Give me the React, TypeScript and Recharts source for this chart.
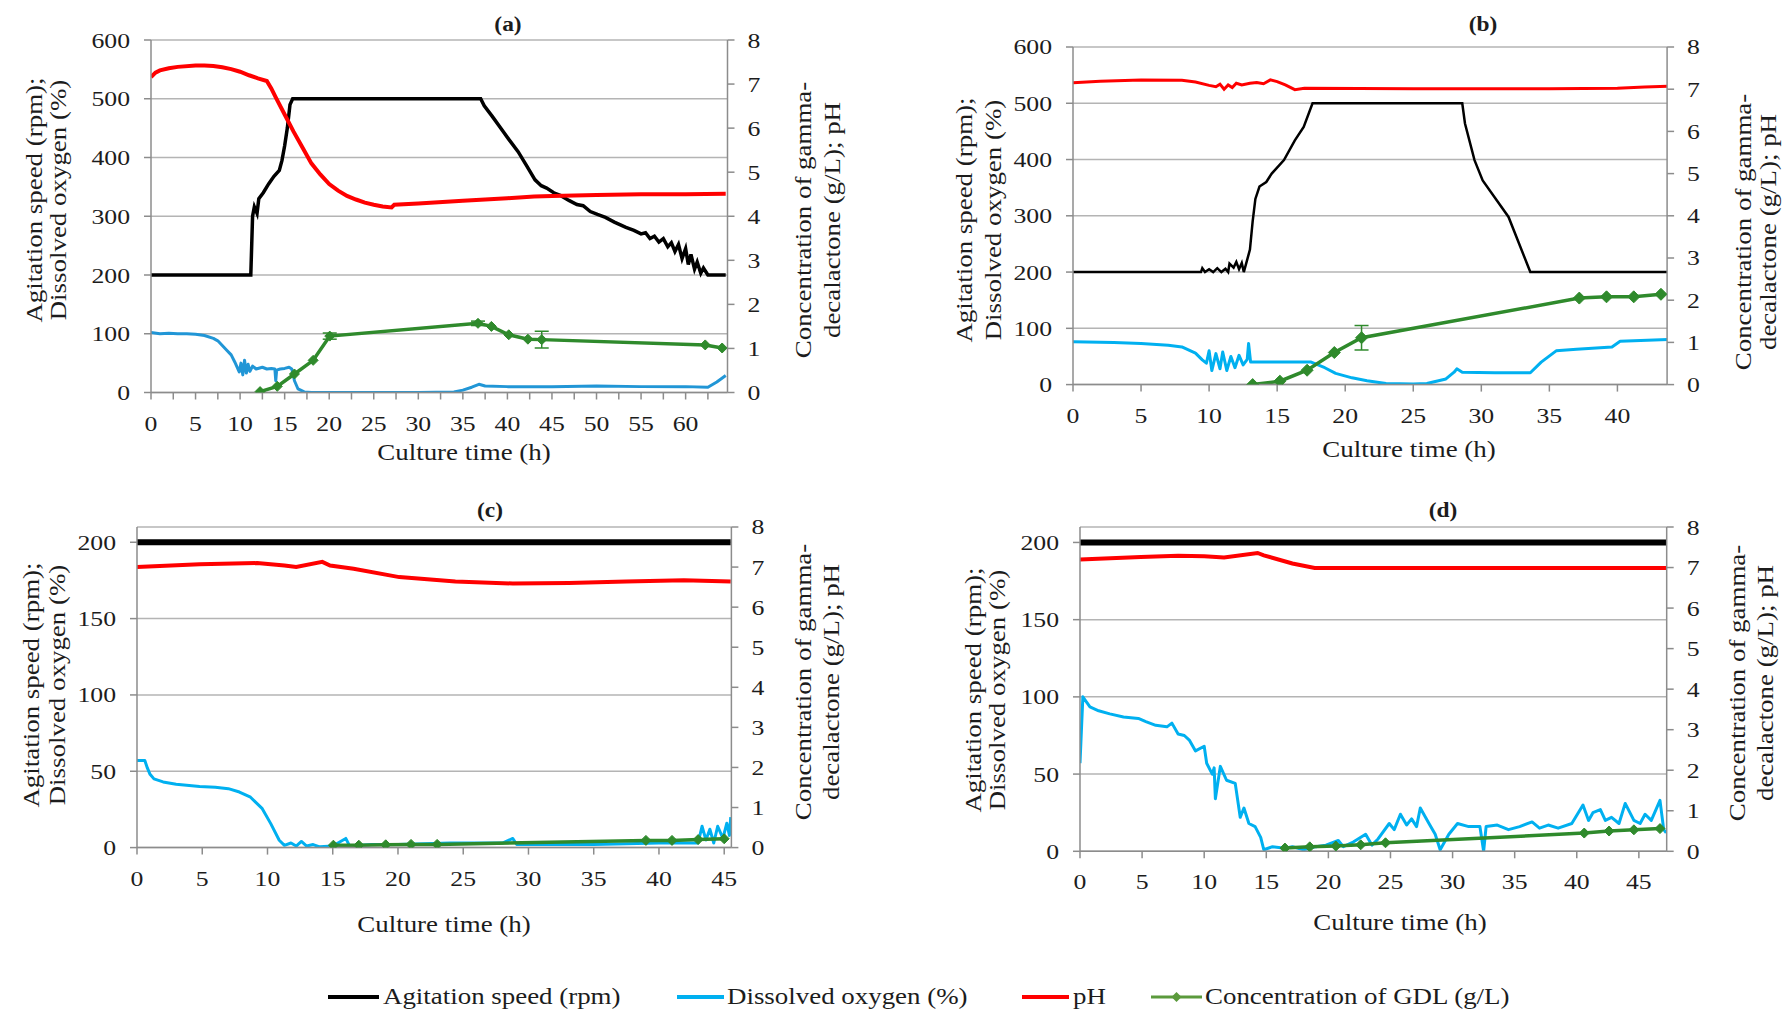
import React from "react";
import { ComposedChart, Line, XAxis, YAxis, CartesianGrid, ErrorBar } from "recharts";

type Pt = [number, number];

const FONT = '"Liberation Serif", "Times New Roman", serif';
const STRETCH = 1.17;
const TEXT = "#1c1c1c";
const AXIS = "#8c8c8c";
const GRID = "#b4b4b4";
const BLACK = "#000000";
const BLUE_A = "#2196d6";
const BLUE = "#00b0f0";
const RED = "#ff0000";
const GREEN = "#2f8a2c";

// ---- panel (a) ----
const aAgitation: Pt[] = [
  [0, 200], [11.2, 200], [11.4, 300], [11.6, 316], [11.9, 305], [12.1, 330], [12.6, 340], [13.2, 355],
  [13.8, 368], [14.4, 378], [14.7, 395], [15.0, 420], [15.3, 450], [15.6, 490], [15.9, 500], [37.0, 500],
  [37.4, 488], [38.3, 470], [39.2, 451], [40.2, 430], [41.2, 410], [42.2, 385], [43.1, 362], [43.8, 352],
  [44.4, 348], [45.2, 340], [46.0, 335], [46.9, 327], [47.8, 320], [48.5, 318], [49.3, 308], [50.1, 303],
  [51.0, 298], [52.0, 290], [53.3, 281], [54.2, 276], [55.0, 270], [55.5, 272], [56.0, 262], [56.5, 266],
  [57.0, 256], [57.5, 262], [58.0, 248], [58.4, 255], [58.8, 240], [59.2, 252], [59.6, 228], [60.0, 245],
  [60.3, 218], [60.6, 235], [61.0, 210], [61.3, 222], [61.7, 203], [62.0, 212], [62.5, 200], [64.5, 200],
];
const aDissolved: Pt[] = [
  [0, 102], [1, 100], [2, 101], [3, 100], [4, 100], [5, 99], [6, 97], [7, 92], [7.5, 88], [8, 80],
  [8.5, 72], [9, 64], [9.4, 52], [9.7, 42], [9.9, 35], [10.1, 50], [10.3, 30], [10.5, 55], [10.7, 33],
  [10.9, 48], [11.1, 36], [11.4, 45], [11.8, 40], [12.5, 43], [13, 40], [13.5, 41], [13.9, 40], [14.0, 20],
  [14.1, 38], [14.5, 40], [15.0, 41], [15.5, 43], [15.8, 40], [16.1, 20], [16.5, 6], [17.2, 1], [18, 0],
  [25, 0], [30, 0], [34, 1], [35, 4], [36, 9], [36.8, 14], [37.5, 11], [40, 10], [45, 10], [50, 11],
  [55, 10], [60, 10], [62.5, 9], [63.5, 18], [64.5, 29],
];
const aPh: Pt[] = [
  [0, 7.16], [0.5, 7.26], [1, 7.31], [2, 7.36], [3, 7.39], [5, 7.42], [6, 7.42], [7, 7.41], [8, 7.38],
  [9, 7.34], [10, 7.28], [11, 7.2], [12, 7.13], [13, 7.07], [13.5, 6.9], [14, 6.7], [15, 6.31], [16, 5.92],
  [17, 5.56], [18, 5.2], [19, 4.95], [20, 4.73], [21, 4.58], [22, 4.46], [23, 4.38], [24, 4.31], [25, 4.26],
  [26, 4.22], [27, 4.2], [27.3, 4.26], [30, 4.29], [35, 4.35], [40, 4.41], [43, 4.45], [45, 4.46],
  [50, 4.48], [55, 4.5], [60, 4.5], [64.5, 4.51],
];
const aGdlTime = [12.24, 14.17, 16.1, 18.2, 20.06, 36.7, 38.2, 40.15, 42.3, 43.85, 62.2, 64.1];
const aGdlValue = [0.02, 0.14, 0.42, 0.73, 1.28, 1.57, 1.5, 1.31, 1.21, 1.2, 1.08, 1.01];
const aGdlError = [0, 0, 0, 0, 0.07, 0.05, 0, 0, 0, 0.19, 0, 0];

// ---- panel (b) ----
const bAgitation: Pt[] = [
  [0, 200], [9.4, 200], [9.5, 207], [9.7, 200], [10, 205], [10.3, 200], [10.6, 207], [10.9, 200],
  [11.2, 206], [11.4, 200], [11.5, 215], [11.8, 208], [12.0, 218], [12.2, 205], [12.4, 216], [12.55, 200],
  [12.8, 222], [13.0, 240], [13.2, 290], [13.4, 330], [13.7, 352], [14.2, 360], [14.6, 375], [15.5, 399],
  [16.3, 434], [16.95, 458], [17.6, 500], [28.6, 500], [28.8, 464], [29.5, 399], [30.1, 363], [32.0, 298],
  [33.6, 200], [43.7, 200],
];
const bDissolved: Pt[] = [
  [0, 76], [3, 75], [5, 73], [7, 70], [8, 67], [9, 56], [9.5, 44], [9.8, 38], [10, 60], [10.2, 25],
  [10.5, 55], [10.8, 28], [11.0, 58], [11.3, 25], [11.6, 50], [11.9, 30], [12.2, 52], [12.5, 35], [12.8, 45],
  [12.9, 73], [13.05, 40], [14, 40], [16, 40], [17.5, 40], [18.5, 30], [19.3, 20], [20.5, 12], [21.6, 7],
  [23, 2], [25, 1], [26, 2], [27.4, 10], [28.0, 22], [28.2, 28], [28.6, 22], [31, 21], [33.6, 21],
  [34.4, 40], [35.5, 60], [37, 63], [39.6, 67], [40.2, 77], [43.7, 80],
];
const bPh: Pt[] = [
  [0, 7.15], [2, 7.19], [5, 7.22], [8, 7.21], [9, 7.17], [10, 7.09], [10.5, 7.06], [10.8, 7.12], [11.1, 7.0],
  [11.4, 7.1], [11.7, 7.04], [12, 7.14], [12.4, 7.1], [13, 7.14], [13.5, 7.16], [14, 7.13], [14.5, 7.22],
  [15, 7.18], [15.6, 7.1], [16.3, 6.99], [17, 7.02], [25, 7.01], [35, 7.01], [40, 7.02], [42, 7.05], [43.7, 7.07],
];
const bGdlTime = [13.2, 15.2, 17.2, 19.2, 21.2, 37.2, 39.2, 41.2, 43.2];
const bGdlValue = [0.0, 0.08, 0.34, 0.76, 1.11, 2.05, 2.08, 2.08, 2.14];
const bGdlError = [0, 0, 0, 0, 0.29, 0, 0, 0, 0];

// ---- panel (c) ----
const cAgitation: Pt[] = [[0, 200], [45.5, 200]];
const cDissolved: Pt[] = [
  [0, 57], [0.6, 57], [0.8, 52], [1.0, 48], [1.3, 45], [2, 43], [3, 41.5], [4.8, 40], [6, 39.5], [7, 38.6],
  [7.85, 36.4], [8.7, 33], [9.6, 25.5], [10.25, 15.7], [10.9, 4.8], [11.3, 1.5], [11.8, 3], [12.2, 1],
  [12.6, 4], [13, 1], [13.5, 2], [14, 0.5], [15, 1], [16, 6], [16.3, 1], [18, 2], [20, 2], [24, 3], [28, 3],
  [28.8, 6], [29.1, 2], [35, 2], [40, 3], [43, 3], [43.3, 14], [43.6, 5], [43.9, 12], [44.2, 3], [44.5, 14],
  [44.9, 6], [45.2, 16], [45.4, 8], [45.5, 20],
];
const cPh: Pt[] = [
  [0, 7.0], [4.8, 7.07], [9.2, 7.1], [11.3, 7.04], [12.2, 7.0], [14.2, 7.13], [14.8, 7.04], [16.6, 6.96],
  [20.1, 6.75], [24.4, 6.64], [28.8, 6.59], [33.1, 6.6], [37.5, 6.64], [41.9, 6.67], [45.5, 6.64],
];
const cGdlTime = [15.05, 17.0, 19.06, 21.0, 23.0, 39.0, 41.0, 43.0, 45.0];
const cGdlValue = [0.06, 0.06, 0.07, 0.08, 0.08, 0.18, 0.18, 0.2, 0.22];

// ---- panel (d) ----
const dAgitation: Pt[] = [[0, 200], [47.2, 200]];
const dDissolved: Pt[] = [
  [0, 57], [0.23, 100], [0.8, 93.5], [1.5, 91], [2.4, 89], [3.5, 87], [4.7, 86], [5.3, 84], [6.1, 81.6],
  [7, 80.6], [7.4, 83], [7.9, 76], [8.4, 75], [8.8, 72], [9.3, 65], [10, 68], [10.2, 57], [10.65, 50],
  [10.8, 54], [10.9, 34], [11.3, 55], [11.8, 46], [12.5, 44], [12.9, 22], [13.2, 28], [13.6, 18], [14.1, 16],
  [14.55, 9], [14.8, 1], [15.5, 3], [16.5, 2], [17.1, 3], [18, 1], [19, 3], [19.8, 4], [20.8, 7], [21.2, 3],
  [22, 6], [23, 11], [23.5, 4], [24, 8], [24.9, 18], [25.3, 14], [25.8, 24], [26.3, 17], [26.7, 21],
  [27.1, 16], [27.4, 28], [28.1, 18], [28.6, 11], [29.0, 1], [29.7, 11], [30.4, 18], [31.3, 16], [32.2, 16],
  [32.5, 0], [32.7, 16], [33.6, 17], [34.5, 14], [35.4, 16], [36.4, 19], [37.0, 15], [37.7, 17], [38.5, 15],
  [39.6, 18], [40.5, 30], [40.95, 20], [41.3, 25], [41.9, 27], [42.3, 20], [42.8, 22], [43.4, 18], [43.9, 31],
  [44.6, 20], [45.1, 18], [45.5, 24], [46.0, 20], [46.7, 33], [47.0, 14], [47.2, 12],
];
const dPh: Pt[] = [
  [0, 7.2], [4.9, 7.26], [7.9, 7.29], [10, 7.28], [11.6, 7.25], [14.3, 7.36], [14.8, 7.3], [17.1, 7.1],
  [18.9, 6.99], [47.2, 6.99],
];
const dGdlTime = [16.5, 18.5, 20.6, 22.6, 24.6, 40.6, 42.6, 44.6, 46.7];
const dGdlValue = [0.08, 0.11, 0.13, 0.16, 0.21, 0.45, 0.5, 0.53, 0.56];

const phTicks = [0, 1, 2, 3, 4, 5, 6, 7, 8];
const leftTitle = ["Agitation speed (rpm);", "Dissolved oxygen (%)"];
const rightTitle = ["Concentration of gamma-", "decalactone (g/L); pH"];
const xTitle = "Culture time (h)";
const legendItems = ["Agitation speed (rpm)", "Dissolved oxygen (%)", "pH", "Concentration of GDL (g/L)"];

const rows = (pts: Pt[]) => pts.map(([t, v]) => ({ t, v }));
const gdlRows = (t: number[], v: number[], e?: number[]) =>
  t.map((x, i) => ({ t: x, v: v[i], err: e ? e[i] : 0 }));
const steps = (end: number, step: number) => {
  const out: number[] = [];
  for (let i = 0; i * step <= end + 1e-9; i++) out.push(+(i * step).toFixed(2));
  return out;
};

const Lw = 80;
const Rw = 80;
const MT = 20;
const XH = 60;

function Txt({ x, y, text, size, rotate = false, bold = false }: any) {
  return (
    <div
      style={{
        position: "absolute",
        left: x,
        top: y,
        transform: `translate(-50%, -50%)${rotate ? " rotate(-90deg)" : ""} scaleX(${STRETCH})`,
        fontFamily: FONT,
        fontSize: size,
        fontWeight: bold ? 700 : 400,
        color: TEXT,
        whiteSpace: "nowrap",
        lineHeight: 1,
      }}
    >
      {text}
    </div>
  );
}

function Panel(p: any) {
  const plotW = p.right - p.left;
  const plotH = p.bottom - p.top;
  const W = plotW + Lw + Rw;
  const H = MT + plotH + XH;

  const leftTick = (props: any) => (
    <text
      transform={`translate(${Lw - 21},${props.y + 7.5}) scale(${STRETCH},1)`}
      textAnchor="end"
      fontFamily={FONT}
      fontSize={22}
      fill={TEXT}
    >
      {props.payload.value}
    </text>
  );
  const rightTick = (props: any) => (
    <text
      transform={`translate(${Lw + plotW + 20},${props.y + 7.5}) scale(${STRETCH},1)`}
      textAnchor="start"
      fontFamily={FONT}
      fontSize={22}
      fill={TEXT}
    >
      {props.payload.value}
    </text>
  );
  const bottomTick = (props: any) => {
    const v = props.payload.value;
    if (Math.abs(v / 5 - Math.round(v / 5)) > 1e-6) return <g />;
    return (
      <text
        transform={`translate(${props.x},${MT + plotH + 38}) scale(${STRETCH},1)`}
        textAnchor="middle"
        fontFamily={FONT}
        fontSize={22}
        fill={TEXT}
      >
        {v}
      </text>
    );
  };

  const ms = p.marker;
  const diamond = (props: any) => {
    const { cx, cy, index } = props;
    if (cx == null || cy == null) return <g key={`d${index}`} />;
    return (
      <path
        key={`d${index}`}
        d={`M${cx},${cy - ms} L${cx + ms},${cy} L${cx},${cy + ms} L${cx - ms},${cy} Z`}
        fill={GREEN}
        stroke={GREEN}
      />
    );
  };

  return (
    <>
      <div style={{ position: "absolute", left: p.left - Lw, top: p.top - MT, width: W, height: H }}>
        <ComposedChart width={W} height={H} margin={{ top: MT, right: 0, bottom: 0, left: 0 }}>
          <CartesianGrid yAxisId="left" vertical={false} stroke={GRID} strokeWidth={1.5} />
          <XAxis
            type="number"
            dataKey="t"
            domain={[0, p.xMax]}
            ticks={p.xTicks}
            interval={0}
            allowDataOverflow
            height={XH}
            stroke={AXIS}
            strokeWidth={1.5}
            tickSize={7}
            tick={bottomTick}
          />
          <YAxis
            yAxisId="left"
            orientation="left"
            width={Lw}
            domain={[0, p.yMax]}
            ticks={p.yTicks}
            interval={0}
            allowDataOverflow
            stroke={AXIS}
            strokeWidth={1.5}
            tickSize={7}
            tick={leftTick}
          />
          <YAxis
            yAxisId="right"
            orientation="right"
            width={Rw}
            domain={[0, 8]}
            ticks={phTicks}
            interval={0}
            allowDataOverflow
            stroke={AXIS}
            strokeWidth={1.5}
            tickSize={7}
            tick={rightTick}
          />
          <Line
            yAxisId="left"
            data={p.agitation}
            dataKey="v"
            type="linear"
            stroke={BLACK}
            strokeWidth={p.wBlack}
            dot={false}
            isAnimationActive={false}
          />
          <Line
            yAxisId="left"
            data={p.dissolved}
            dataKey="v"
            type="linear"
            stroke={p.blue}
            strokeWidth={3}
            strokeLinejoin="round"
            dot={false}
            isAnimationActive={false}
          />
          <Line
            yAxisId="right"
            data={p.ph}
            dataKey="v"
            type="linear"
            stroke={RED}
            strokeWidth={p.wRed}
            dot={false}
            isAnimationActive={false}
          />
          <Line
            yAxisId="right"
            data={p.gdl}
            dataKey="v"
            type="linear"
            stroke={GREEN}
            strokeWidth={3.5}
            dot={diamond}
            isAnimationActive={false}
          >
            <ErrorBar dataKey="err" direction="y" width={7} stroke={GREEN} strokeWidth={1.5} />
          </Line>
        </ComposedChart>
      </div>
      <Txt x={p.titlePos[0]} y={p.titlePos[1]} text={p.title} size={20} bold />
      <Txt x={p.xTitlePos[0]} y={p.xTitlePos[1]} text={xTitle} size={23} />
      <Txt x={p.leftTitlePos[0]} y={p.leftTitlePos[2]} text={leftTitle[0]} size={23} rotate />
      <Txt x={p.leftTitlePos[1]} y={p.leftTitlePos[2]} text={leftTitle[1]} size={23} rotate />
      <Txt x={p.rightTitlePos[0]} y={p.rightTitlePos[2]} text={rightTitle[0]} size={23} rotate />
      <Txt x={p.rightTitlePos[1]} y={p.rightTitlePos[2]} text={rightTitle[1]} size={23} rotate />
    </>
  );
}

function Legend() {
  const y = 997;
  const items = [
    { x0: 328, x1: 379, tx: 383, color: BLACK, w: 4, marker: false },
    { x0: 677, x1: 724, tx: 727, color: BLUE, w: 4, marker: false },
    { x0: 1022, x1: 1069, tx: 1073, color: RED, w: 4, marker: false },
    { x0: 1151, x1: 1202, tx: 1205, color: "#5b9a3c", w: 3, marker: true },
  ];
  return (
    <svg width={1787} height={1013} style={{ position: "absolute", left: 0, top: 0, pointerEvents: "none" }}>
      {items.map((it, i) => (
        <g key={i}>
          <line x1={it.x0} x2={it.x1} y1={y} y2={y} stroke={it.color} strokeWidth={it.w} />
          {it.marker && (
            <path
              d={`M${(it.x0 + it.x1) / 2},${y - 5} l5,5 l-5,5 l-5,-5 Z`}
              fill={it.color}
            />
          )}
          <text
            transform={`translate(${it.tx},${y + 7}) scale(${STRETCH},1)`}
            fontFamily={FONT}
            fontSize={23}
            fill={TEXT}
          >
            {legendItems[i]}
          </text>
        </g>
      ))}
    </svg>
  );
}

export default function App() {
  return (
    <div
      style={{
        position: "absolute",
        left: 0,
        top: 0,
        width: 1787,
        height: 1013,
        background: "#ffffff",
        overflow: "hidden",
      }}
    >
      <Panel
        title="(a)"
        left={151}
        right={727.5}
        top={39.5}
        bottom={392}
        xMax={64.7}
        xTicks={steps(62.5, 2.5)}
        yMax={600}
        yTicks={steps(600, 100)}
        agitation={rows(aAgitation)}
        dissolved={rows(aDissolved)}
        ph={rows(aPh)}
        gdl={gdlRows(aGdlTime, aGdlValue, aGdlError)}
        blue={BLUE_A}
        wBlack={3.5}
        wRed={4}
        marker={5}
        titlePos={[508, 24]}
        xTitlePos={[464, 452]}
        leftTitlePos={[34, 58, 200]}
        rightTitlePos={[803, 832, 220]}
      />
      <Panel
        title="(b)"
        left={1072.6}
        right={1666.7}
        top={46.7}
        bottom={384.3}
        xMax={43.65}
        xTicks={steps(40, 5)}
        yMax={600}
        yTicks={steps(600, 100)}
        agitation={rows(bAgitation)}
        dissolved={rows(bDissolved)}
        ph={rows(bPh)}
        gdl={gdlRows(bGdlTime, bGdlValue, bGdlError)}
        blue={BLUE}
        wBlack={2.5}
        wRed={3}
        marker={6}
        titlePos={[1483, 24]}
        xTitlePos={[1409, 449]}
        leftTitlePos={[964, 993, 220]}
        rightTitlePos={[1743, 1768, 232]}
      />
      <Panel
        title="(c)"
        left={136.6}
        right={731}
        top={526.7}
        bottom={847.3}
        xMax={45.55}
        xTicks={steps(45, 5)}
        yMax={210}
        yTicks={steps(200, 50)}
        agitation={rows(cAgitation)}
        dissolved={rows(cDissolved)}
        ph={rows(cPh)}
        gdl={gdlRows(cGdlTime, cGdlValue)}
        blue={BLUE}
        wBlack={6}
        wRed={4}
        marker={5}
        titlePos={[490, 510]}
        xTitlePos={[444, 924]}
        leftTitlePos={[31, 57, 685]}
        rightTitlePos={[803, 831, 682]}
      />
      <Panel
        title="(d)"
        left={1080}
        right={1666.7}
        top={526.7}
        bottom={851}
        xMax={47.24}
        xTicks={steps(45, 5)}
        yMax={210}
        yTicks={steps(200, 50)}
        agitation={rows(dAgitation)}
        dissolved={rows(dDissolved)}
        ph={rows(dPh)}
        gdl={gdlRows(dGdlTime, dGdlValue)}
        blue={BLUE}
        wBlack={6}
        wRed={4}
        marker={5}
        titlePos={[1443, 510]}
        xTitlePos={[1400, 922]}
        leftTitlePos={[973, 997, 690]}
        rightTitlePos={[1737, 1765, 683]}
      />
      <Legend />
    </div>
  );
}
